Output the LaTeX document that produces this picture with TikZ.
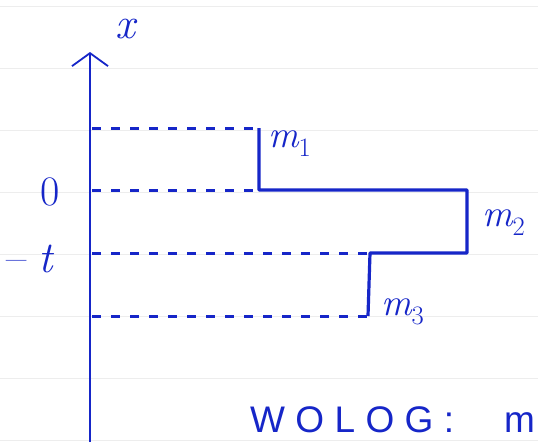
\documentclass[tikz,border=0pt]{standalone}
\usepackage{fontspec}
\usepackage{tikz}
\usetikzlibrary{positioning,arrows.meta}
\newfontfamily\handfont[LetterSpace=28]{Liberation Sans}
\definecolor{ink}{RGB}{22,38,200}

\begin{document}
\begin{tikzpicture}[x=1pt,y=-1pt,
  rule/.style={draw=black!7, line width=0.8pt},
  axisline/.style={draw=ink, line width=1.8pt},
  guide/.style={draw=ink, line width=3pt, dash pattern=on 9pt off 10pt},
  profile/.style={draw=ink, line width=3.2pt, line join=round},
  labl/.style={text=ink, inner sep=0pt},
  big/.style={font=\itshape\fontsize{44}{50}\selectfont},
  mid/.style={font=\itshape\fontsize{38}{44}\selectfont},
]
\useasboundingbox[fill=white] (0,0) rectangle (538,442);
\clip (0,0) rectangle (538,442);
% notebook ruling
\foreach \y in {6,68,130,192,254,316,378,440}
  \draw[rule] (0,\y) -- (538,\y);

% axis
\coordinate (base) at (90,442);
\coordinate (tip)  at (90,52);
\draw[axisline, -{Straight Barb[length=13pt,width=36pt]}] (base) -- (tip);

% levels on the axis
\coordinate (l1) at (92,128);
\coordinate (l0) at (92,190);
\coordinate (lt) at (92,253);
\coordinate (l3) at (92,316);

% corners of the profile
\coordinate (p1) at (259,128);
\coordinate (p2) at (259,190);
\coordinate (p3) at (467,190);
\coordinate (p4) at (467,253);
\coordinate (p5) at (370,253);
\coordinate (p6) at (368,316);

\draw[guide] (l1) -- (p1);
\draw[guide] (l0) -- (p2);
\draw[guide] (lt) -- (p5);
\draw[guide] (l3) -- (p6);
\draw[profile] (p1) -- (p2) -- (p3) -- (p4) -- (p5) -- (p6);

% labels
\node[labl, big, anchor=base] (xlab) at (125,38)  {x};
\node[labl, font=\fontsize{42}{48}\selectfont, anchor=base] (zero) at (50,205) {0};
\node[labl, big, anchor=base west] (mint) at (6,272) {\upshape–\hspace{12pt}\itshape t};
\node[labl, mid, anchor=base west] (m1) at (268,147) {m\textsubscript{\upshape 1}};
\node[labl, mid, anchor=base west] (m2) at (482,226) {m\textsubscript{\upshape 2}};
\node[labl, mid, anchor=base west] (m3) at (381,315) {m\textsubscript{\upshape 3}};
\node[labl, anchor=base west, font=\handfont\fontsize{37}{42}\selectfont]
  (wolog) at (250,432) {WOLOG:\hspace{50pt}m};
\end{tikzpicture}
\end{document}
